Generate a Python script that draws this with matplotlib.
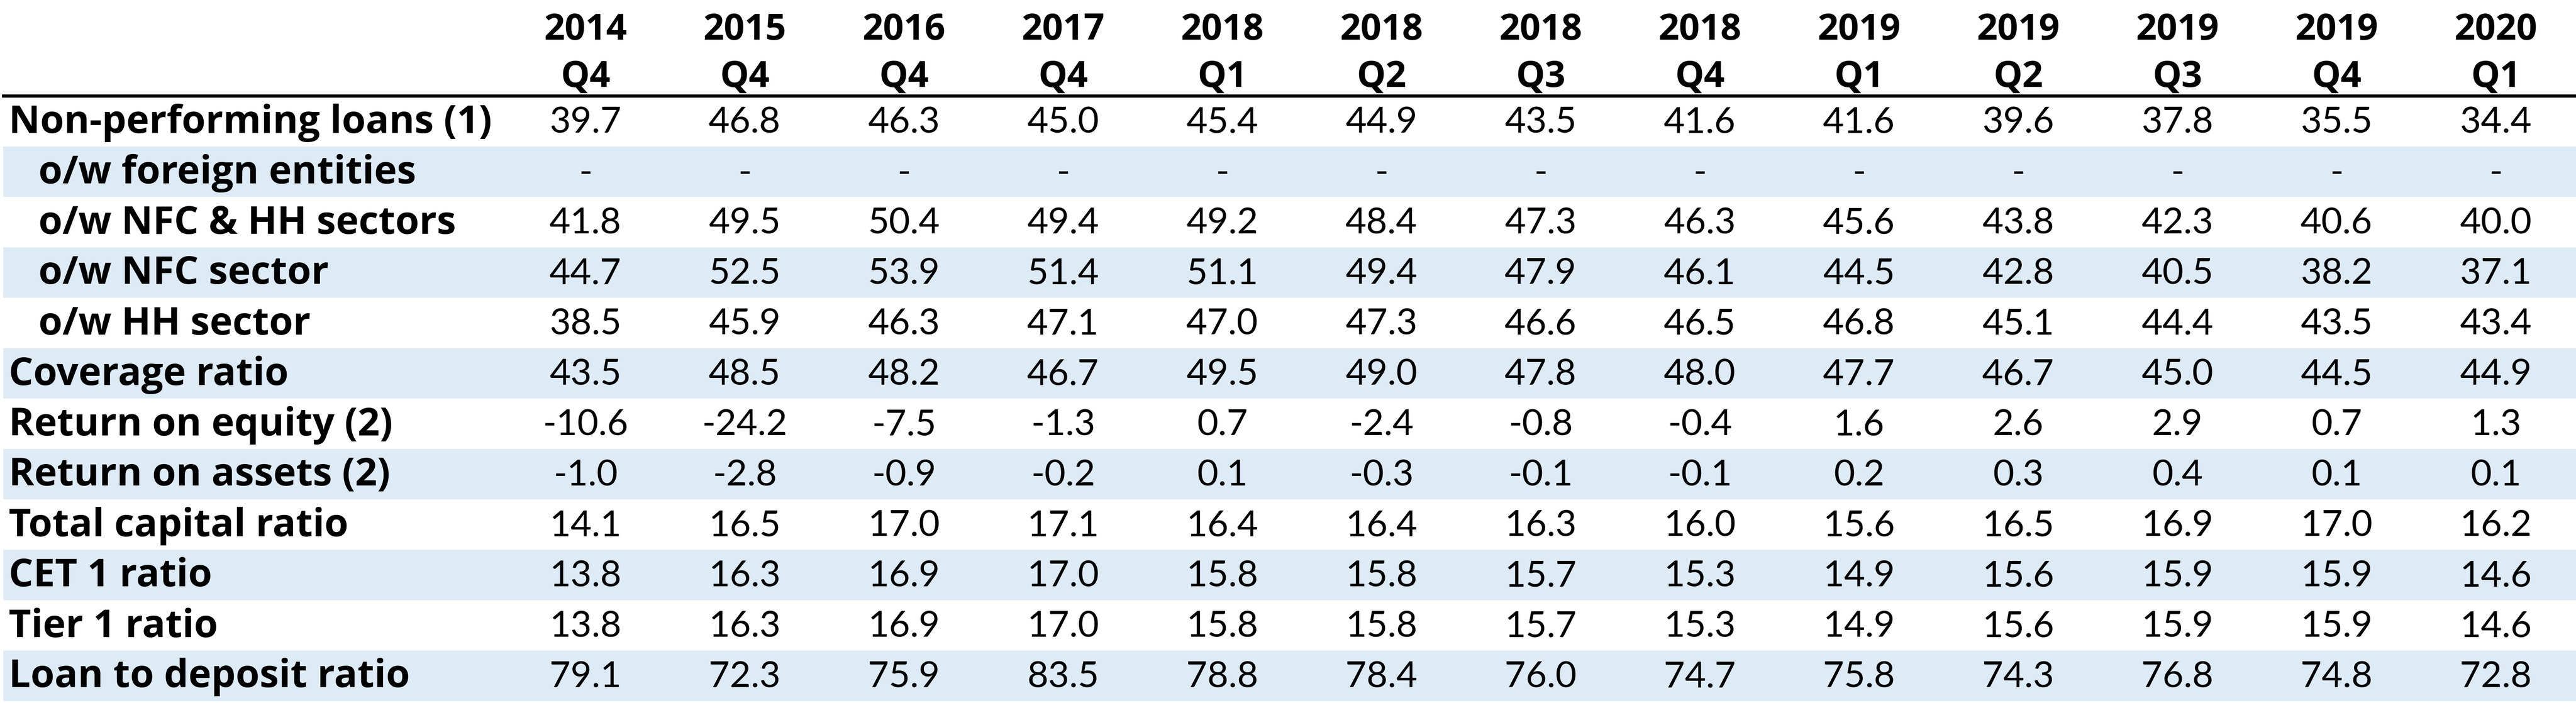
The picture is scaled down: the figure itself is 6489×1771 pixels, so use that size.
import matplotlib
matplotlib.use("Agg")
from matplotlib import pyplot as plt
from matplotlib.patches import Rectangle

plt.rcParams['font.family'] = ['Lato', 'DejaVu Sans']

# Datos de la tabla
anios = ["2014", "2015", "2016", "2017", "2018", "2018", "2018", "2018",
         "2019", "2019", "2019", "2019", "2020"]
trimestres = ["Q4", "Q4", "Q4", "Q4", "Q1", "Q2", "Q3", "Q4",
              "Q1", "Q2", "Q3", "Q4", "Q1"]

etiquetas = ["Non-performing loans (1)", "o/w foreign entities", "o/w NFC & HH sectors",
             "o/w NFC sector", "o/w HH sector", "Coverage ratio", "Return on equity (2)",
             "Return on assets (2)", "Total capital ratio", "CET 1 ratio", "Tier 1 ratio",
             "Loan to deposit ratio"]
sangria = [False, True, True, True, True, False, False, False, False, False, False, False]

npl = [39.7, 46.8, 46.3, 45.0, 45.4, 44.9, 43.5, 41.6, 41.6, 39.6, 37.8, 35.5, 34.4]
foreign = [None] * 13
nfc_hh = [41.8, 49.5, 50.4, 49.4, 49.2, 48.4, 47.3, 46.3, 45.6, 43.8, 42.3, 40.6, 40.0]
nfc = [44.7, 52.5, 53.9, 51.4, 51.1, 49.4, 47.9, 46.1, 44.5, 42.8, 40.5, 38.2, 37.1]
hh = [38.5, 45.9, 46.3, 47.1, 47.0, 47.3, 46.6, 46.5, 46.8, 45.1, 44.4, 43.5, 43.4]
coverage = [43.5, 48.5, 48.2, 46.7, 49.5, 49.0, 47.8, 48.0, 47.7, 46.7, 45.0, 44.5, 44.9]
roe = [-10.6, -24.2, -7.5, -1.3, 0.7, -2.4, -0.8, -0.4, 1.6, 2.6, 2.9, 0.7, 1.3]
roa = [-1.0, -2.8, -0.9, -0.2, 0.1, -0.3, -0.1, -0.1, 0.2, 0.3, 0.4, 0.1, 0.1]
total_cap = [14.1, 16.5, 17.0, 17.1, 16.4, 16.4, 16.3, 16.0, 15.6, 16.5, 16.9, 17.0, 16.2]
cet1 = [13.8, 16.3, 16.9, 17.0, 15.8, 15.8, 15.7, 15.3, 14.9, 15.6, 15.9, 15.9, 14.6]
tier1 = [13.8, 16.3, 16.9, 17.0, 15.8, 15.8, 15.7, 15.3, 14.9, 15.6, 15.9, 15.9, 14.6]
ltd = [79.1, 72.3, 75.9, 83.5, 78.8, 78.4, 76.0, 74.7, 75.8, 74.3, 76.8, 74.8, 72.8]

filas = [npl, foreign, nfc_hh, nfc, hh, coverage, roe, roa, total_cap, cet1, tier1, ltd]

# Geometria (en pixeles)
W, H = 6489, 1771
y_cab = 242
alto = (1766 - y_cab) / len(filas)
x0 = 1475
paso = 401
azul = "#DDEBF7"
fs = 66
negrita = ["Open Sans", "DejaVu Sans"]

fig = plt.figure(figsize=(W / 100, H / 100), dpi=100)
ax = fig.add_axes([0, 0, 1, 1])
ax.set_xlim(0, W)
ax.set_ylim(H, 0)
ax.axis("off")

# Cabecera
for i in range(len(anios)):
    x = x0 + paso * i
    ax.text(x, 100, anios[i], ha="center", va="baseline", fontsize=fs,
            fontweight="bold", family=negrita)
    ax.text(x, 218, trimestres[i], ha="center", va="baseline", fontsize=fs,
            fontweight="bold", family=negrita)

ax.plot([5, W], [y_cab, y_cab], color="black", lw=5.8, solid_capstyle="butt")

# Filas
for r in range(len(filas)):
    top = y_cab + alto * r
    base = top + alto / 2 + 29
    if r % 2 == 1:
        ax.add_patch(Rectangle((8, top), W - 8, alto, color=azul, lw=0, zorder=0))
    xl = 97 if sangria[r] else 22
    ax.text(xl, base, etiquetas[r], ha="left", va="baseline", fontsize=70,
            fontweight="bold", family=negrita)
    for i, v in enumerate(filas[r]):
        s = "-" if v is None else f"{v:.1f}"
        ax.text(x0 + paso * i, base, s, ha="center", va="baseline", fontsize=fs)

fig.savefig("out.png", dpi=100)
